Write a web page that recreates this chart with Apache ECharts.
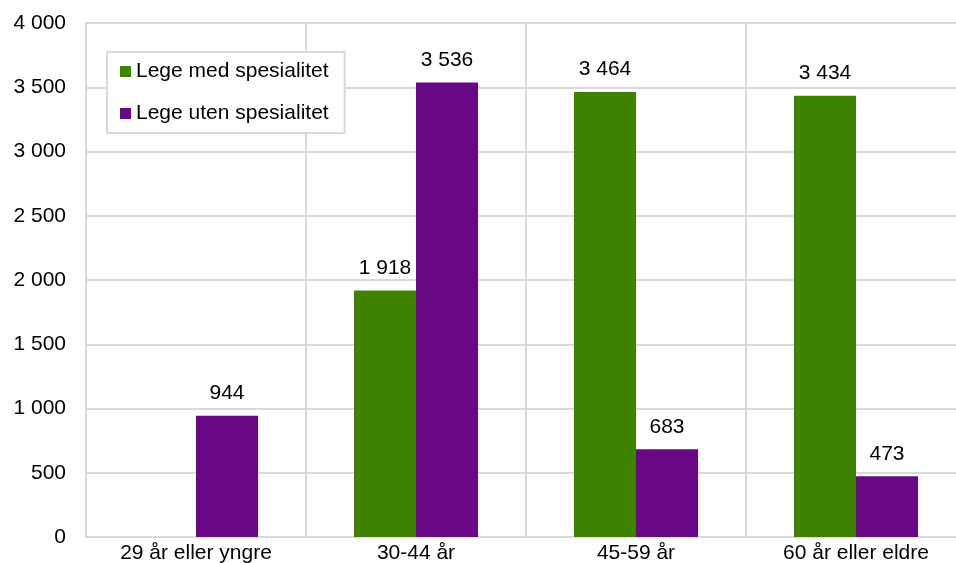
<!DOCTYPE html>
<html>
<head>
<meta charset="utf-8">
<script src="https://cdn.jsdelivr.net/npm/echarts@6/dist/echarts.min.js"></script>
<style>
  html, body { margin: 0; padding: 0; background: #fff; }
  #chart { width: 956px; height: 563px; }
</style>
</head>
<body>
<div id="chart"></div>
<script>
// Age groups and counts of doctors with / without specialty
const categories = ['29 år eller yngre', '30-44 år', '45-59 år', '60 år eller eldre'];
const seriesNames = ['Lege med spesialitet', 'Lege uten spesialitet'];
const withSpecialty = [null, 1918, 3464, 3434];
const withoutSpecialty = [944, 3536, 683, 473];
const yTicks = { min: 0, max: 4000, interval: 500 };

const GRID = '#d9d9d9';
const FONT = 'Liberation Sans, Arial, sans-serif';
const FS = 21;

// Norwegian-style thousands separator (space)
function fmt(v) {
  return String(Math.round(v)).replace(/\B(?=(\d{3})+(?!\d))/g, ' ');
}

const labelCfg = {
  show: true,
  position: 'top',
  distance: 12,
  color: '#000',
  fontFamily: FONT,
  fontSize: FS,
  formatter: p => (p.value == null ? '' : fmt(p.value))
};

const chart = echarts.init(document.getElementById('chart'), null, { renderer: 'canvas' });
chart.setOption({
  animation: false,
  backgroundColor: '#fff',
  textStyle: { fontFamily: FONT },
  // plot area runs past the right edge of the canvas
  grid: { left: 86, top: 23, right: -10, bottom: 26, containLabel: false, outerBoundsMode: 'none' },
  legend: {
    orient: 'vertical',
    left: 107,
    top: 52,
    icon: 'rect',
    itemWidth: 11,
    itemHeight: 11,
    itemGap: 21,
    padding: [9, 16, 9, 13],
    backgroundColor: '#fff',
    borderColor: GRID,
    borderWidth: 2,
    textStyle: { color: '#000', fontSize: FS, fontFamily: FONT },
    data: seriesNames
  },
  xAxis: {
    type: 'category',
    data: categories,
    axisLine: { show: true, lineStyle: { color: GRID, width: 2 } },
    axisTick: { show: false },
    splitLine: { show: true, lineStyle: { color: GRID, width: 2 } },
    axisLabel: { color: '#000', fontSize: FS, fontFamily: FONT, margin: 6 }
  },
  yAxis: {
    type: 'value',
    min: yTicks.min,
    max: yTicks.max,
    interval: yTicks.interval,
    axisLine: { show: true, lineStyle: { color: GRID, width: 2 } },
    axisTick: { show: false },
    splitLine: { show: true, lineStyle: { color: GRID, width: 2 } },
    axisLabel: { color: '#000', fontSize: FS, fontFamily: FONT, margin: 20, formatter: v => fmt(v) }
  },
  series: [
    {
      name: seriesNames[0],
      type: 'bar',
      data: withSpecialty,
      barGap: '0%',
      barCategoryGap: '43.6%',
      itemStyle: { color: '#3f8200' },
      label: labelCfg
    },
    {
      name: seriesNames[1],
      type: 'bar',
      data: withoutSpecialty,
      barGap: '0%',
      barCategoryGap: '43.6%',
      itemStyle: { color: '#690885' },
      label: labelCfg
    }
  ]
});
</script>
</body>
</html>
